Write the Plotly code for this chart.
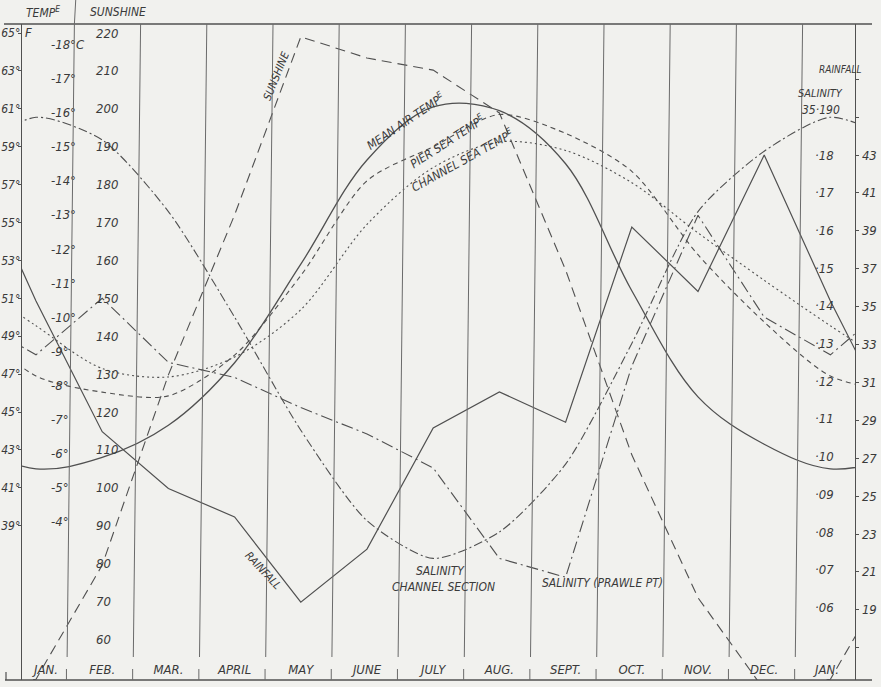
import plotly.graph_objects as go

# ---------------- data ----------------
MONTHS = ["JAN.", "FEB.", "MAR.", "APRIL", "MAY", "JUNE", "JULY",
          "AUG.", "SEPT.", "OCT.", "NOV.", "DEC.", "JAN."]

# monthly values, January .. December
air_temp_F    = [42.0, 42.6, 44.3, 47.6, 52.8, 58.3, 61.1, 60.9, 58.1, 51.4, 45.8, 43.3]
pier_sea_F    = [46.9, 46.05, 45.85, 48.0, 52.2, 57.2, 59.0, 60.7, 59.7, 57.7, 53.3, 49.75]
channel_sea_F = [49.55, 47.3, 46.85, 47.9, 50.4, 54.9, 57.9, 59.25, 58.8, 57.1, 54.45, 51.95]
sunshine_hrs  = [49.5, 79.6, 129.8, 172.0, 219.0, 213.4, 210.2, 198.9, 157.5, 108.7, 71.0, 46.7]
rainfall      = [35.3, 28.4, 25.4, 23.9, 19.4, 22.2, 28.6, 30.5, 28.9, 39.2, 35.8, 43.0]
sal_channel   = [35.190, 35.184, 35.165, 35.137, 35.107, 35.083, 35.073, 35.080,
                 35.098, 35.130, 35.165, 35.181]
sal_prawle    = [35.127, 35.142, 35.125, 35.121, 35.113, 35.106, 35.097, 35.073,
                 35.068, 35.124, 35.164, 35.137]

F_TICKS = list(range(39, 66, 2))
C_TICKS = list(range(4, 19))
SUN_TICKS = list(range(60, 221, 10))
SAL_TICKS = [35.06, 35.07, 35.08, 35.09, 35.10, 35.11, 35.12, 35.13,
             35.14, 35.15, 35.16, 35.17, 35.18]
RAIN_TICKS = list(range(19, 44, 2))
RAIN_MINOR = [17, 45, 47]

# ---------------- helpers ----------------
W, H = 881, 687
L, R, T, B = 22, 855, 24, 680          # plot area in pixels


def xp(px):
    return (px - L) / (R - L)


def yp(py):
    return (B - py) / (B - T)


def cyc(v):
    # cyclic extension: Dec before Jan, Jan+Feb after Dec
    return [v[11]] + list(v) + [v[0], v[1]]


X = list(range(0, 15))  # month index: 0 = previous Dec, 1 = Jan ... 13 = Jan, 14 = Feb

INK = "#505050"
TXT = "#3a3a3a"
FONT = "DejaVu Sans Condensed, Liberation Sans Narrow, Roboto Condensed, DejaVu Sans"

fig = go.Figure()


def add(vals, axis, dash, shape="linear", smooth=1.0, width=1.2, name=""):
    line = dict(color=INK, width=width, dash=dash, shape=shape)
    if shape == "spline":
        line["smoothing"] = smooth
    fig.add_trace(go.Scatter(x=X, y=cyc(vals), mode="lines", line=line,
                             yaxis=axis, name=name, hoverinfo="skip",
                             showlegend=False))


add(air_temp_F, "y", "solid", "spline", 1.0, 1.3, "Mean air temp")
add(pier_sea_F, "y", "5px,4px", "spline", 0.8, 1.1, "Pier sea temp")
add(channel_sea_F, "y", "2px,3px", "spline", 0.9, 1.1, "Channel sea temp")
add(sunshine_hrs, "y2", "10px,6px", "linear", width=1.1, name="Sunshine")
add(rainfall, "y4", "solid", "linear", width=1.2, name="Rainfall")
add(sal_channel, "y3", "9px,3px,2px,3px", "spline", 0.7, 1.1, "Salinity channel")
add(sal_prawle, "y3", "12px,4px,2px,4px", "linear", width=1.1, name="Salinity Prawle")

# axis ranges derived from pixel calibration
F_lo = 65 - (B - 33) / 18.95
F_hi = 65 + (33 - T) / 18.95
S_lo, S_hi = 220 - 5 * (65 - F_lo), 220 - 5 * (65 - F_hi)
C_lo, C_hi = (F_lo - 32) / 1.8, (F_hi - 32) / 1.8
F_at155 = 65 - (155 - 33) / 18.95
SAL_lo = 35.18 + (F_lo - F_at155) * (18.95 / 3770)
SAL_hi = 35.18 + (F_hi - F_at155) * (18.95 / 3770)
RN_lo = 43 + (F_lo - F_at155)
RN_hi = 43 + (F_hi - F_at155)

x_lo = 1 + (L - 36) / 66.2
x_hi = 1 + (R - 36) / 66.2

tickfont = dict(family=FONT, size=13, color=TXT, style="italic")
ftickfont = dict(family=FONT, size=12, color=TXT, style="italic")

lab_x = [1 + (46 - 36) / 66.2] + list(range(2, 13)) + [1 + (827 - 36) / 66.2]

fig.update_layout(
    width=W, height=H, autosize=False,
    margin=dict(l=L, r=W - R, t=T, b=H - B, pad=0),
    paper_bgcolor="#f1f1ee", plot_bgcolor="#f1f1ee",
    font=dict(family=FONT, size=12, color=TXT, style="italic"),
    xaxis=dict(range=[x_lo, x_hi], showgrid=False, zeroline=False,
               tickvals=lab_x, ticktext=MONTHS, ticks="",
               ticklabelposition="inside", ticklabelstandoff=0,
               tickfont=tickfont, automargin=False,
               showline=False, fixedrange=True),
    yaxis=dict(range=[F_lo, F_hi], showgrid=False, zeroline=False,
               tickvals=F_TICKS, ticktext=[f"{v}°" for v in F_TICKS],
               ticks="outside", ticklen=3, tickcolor=INK,
               ticklabelstandoff=-5,
               showline=True, linecolor=INK, linewidth=1.3,
               tickfont=ftickfont, automargin=False),
    yaxis2=dict(range=[S_lo, S_hi], overlaying="y", anchor="free",
                position=xp(95), side="right", showgrid=False,
                zeroline=False, showline=False, ticks="", automargin=False,
                tickvals=SUN_TICKS, ticktext=[str(v) for v in SUN_TICKS],
                tickfont=tickfont),
    yaxis3=dict(range=[SAL_lo, SAL_hi], overlaying="y", anchor="free",
                position=xp(814), side="right", showgrid=False,
                zeroline=False, showline=False, ticks="", automargin=False,
                tickvals=SAL_TICKS,
                ticktext=["·" + f"{v:.2f}"[-2:] for v in SAL_TICKS],
                tickfont=tickfont),
    yaxis4=dict(range=[RN_lo, RN_hi], overlaying="y", anchor="x",
                side="right", showgrid=False, zeroline=False,
                showline=True, linecolor=INK, linewidth=1.3,
                ticks="outside", ticklen=3, tickcolor=INK, automargin=False,
                tickvals=RAIN_TICKS, ticktext=[str(v) for v in RAIN_TICKS],
                minor=dict(tickvals=RAIN_MINOR, ticks="outside", ticklen=3,
                           tickcolor=INK, showgrid=False),
                tickfont=tickfont),
    yaxis5=dict(range=[C_lo, C_hi], overlaying="y", anchor="free",
                position=xp(50), side="right", showgrid=False,
                zeroline=False, showline=False, ticks="", automargin=False,
                tickvals=C_TICKS,
                ticktext=[f"-{v}°C" if v == 18 else f"-{v}°" for v in C_TICKS],
                tickfont=tickfont),
)
# invisible trace so that the Celsius axis is drawn
fig.add_trace(go.Scatter(x=[x_lo], y=[C_lo], yaxis="y5", mode="markers",
                         marker=dict(opacity=0), hoverinfo="skip",
                         showlegend=False))

shapes = []
LC = dict(color="#6a6a6a", width=1)
# frame lines
shapes.append(dict(type="line", xref="paper", yref="paper",
                   x0=xp(4), x1=xp(872), y0=1, y1=1, line=dict(color=INK, width=1.3)))
shapes.append(dict(type="line", xref="paper", yref="paper",
                   x0=xp(5), x1=xp(872), y0=0, y1=0, line=dict(color=INK, width=1.3)))
shapes.append(dict(type="line", xref="paper", yref="paper",
                   x0=xp(6), x1=xp(6), y0=0, y1=yp(672), line=dict(color=INK, width=1.2)))
# month division lines (slightly slanted like the drawing)
for g in [m + 0.5 for m in range(1, 13)]:
    shapes.append(dict(type="line", xref="x", yref="paper",
                       x0=g - 0.03, x1=g + 0.08, y0=yp(657), y1=1,
                       line=LC))
    shapes.append(dict(type="line", xref="x", yref="paper",
                       x0=g - 0.04, x1=g - 0.04, y0=0, y1=yp(669),
                       line=LC))
# Jan/Feb line continues through the header
shapes.append(dict(type="line", xref="x", yref="paper",
                   x0=1.58, x1=1.60, y0=1, y1=yp(0), line=LC))
fig.update_layout(shapes=shapes)

ann = []


def text(px, py, s, size=12, angle=0, anchor="center"):
    ann.append(dict(xref="paper", yref="paper", x=xp(px), y=yp(py), text=s,
                    showarrow=False, textangle=angle, xanchor=anchor,
                    yanchor="middle",
                    font=dict(family=FONT, size=size, color=TXT, style="italic")))


text(43, 12, "TEMP<sup>E</sup>", 12)
text(118, 12, "SUNSHINE", 12)
text(28, 33, "F", 13)
text(277, 76, "SUNSHINE", 11, -68)
text(405, 121, "MEAN AIR TEMP<sup>E</sup>", 12, -34)
text(447, 141, "PIER SEA TEMP<sup>E</sup>", 12, -33)
text(462, 160, "CHANNEL SEA TEMP<sup>E</sup>", 12, -29)
text(263, 570, "RAINFALL", 11, 47)
text(441, 571, "SALINITY", 12)
text(443, 587, "CHANNEL SECTION", 12)
text(602, 583, "SALINITY (PRAWLE PT)", 12)
text(840, 70, "RAINFALL", 10)
text(820, 94, "SALINITY", 11)
text(821, 110, "35·190", 12)
fig.update_layout(annotations=ann)

fig.write_html("out.html",
               config={"displayModeBar": False, "staticPlot": True},
               post_script="document.body.style.margin='0px';"
                           "document.body.style.padding='0px';")
